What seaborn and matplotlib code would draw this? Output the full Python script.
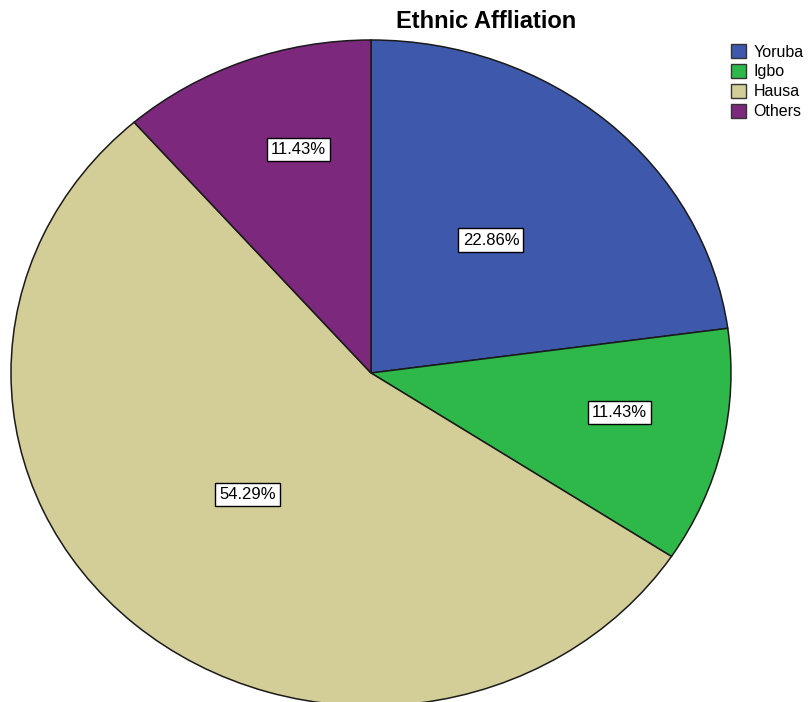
import numpy as np
import matplotlib
matplotlib.use("Agg")
import matplotlib.pyplot as plt
import seaborn as sns
from matplotlib.patches import Patch

# Ethnic affiliation shares (percent)
groups = ["Yoruba", "Igbo", "Hausa", "Others"]
shares = [22.86, 11.43, 54.29, 11.43]
slice_colors = ["#3E58AC", "#2EB84A", "#D3CE97", "#7C287D"]
title_text = "Ethnic Affliation"

sns.set_theme(style="white")
plt.rcParams["font.family"] = ["Liberation Sans", "DejaVu Sans"]
plt.rcParams["text.color"] = "black"
palette = sns.color_palette(slice_colors)

fig = plt.figure(figsize=(8.11, 7.02), dpi=100)
W, H = 811, 702
# axes box in pixels: left, bottom(from top), width, height -> the pie fills it as an ellipse
ax = fig.add_axes([11 / W, (H - 706) / H, 720 / W, 666 / H])

wedges, texts, autotexts = ax.pie(
    shares,
    colors=palette,
    startangle=90,
    counterclock=False,
    radius=1.0,
    autopct="%.2f%%",
    pctdistance=0.55,
    wedgeprops=dict(edgecolor="#1a1a1a", linewidth=1.1),
    textprops=dict(fontsize=12, color="black"),
)
ax.set_aspect("auto")
ax.set_xlim(-1, 1)
ax.set_ylim(-1, 1)
ax.axis("off")

# label placement: radial distance and small angular nudge per slice
label_dist = [0.52, 0.70, 0.50, 0.70]
label_nudge = [1.3, 3.1, -2.1, -3.9]
for w, t, s, d, n in zip(wedges, autotexts, shares, label_dist, label_nudge):
    ang = np.deg2rad((w.theta1 + w.theta2) / 2 + n)
    t.set_text(f"{s:.2f}%")
    t.set_position((d * np.cos(ang), d * np.sin(ang)))
    t.set_ha("center")
    t.set_va("center")
    t.set_bbox(dict(boxstyle="square,pad=0.25", fc="white", ec="black", lw=1.0))

fig.text(486 / W, 1 - 22 / H, title_text, ha="center", va="center",
         fontsize=17, fontweight="bold", color="black")

handles = [Patch(facecolor=c, edgecolor="#333333", linewidth=1.0) for c in palette]
fig.legend(handles, groups, loc="upper left",
           bbox_to_anchor=(728 / W, 1 - 41 / H), frameon=False,
           fontsize=11.5, handlelength=0.95, handleheight=0.95,
           handletextpad=0.45, labelspacing=0.28, borderpad=0.2,
           borderaxespad=0, labelcolor="black")

fig.savefig("out.png", dpi=100, facecolor="white")
